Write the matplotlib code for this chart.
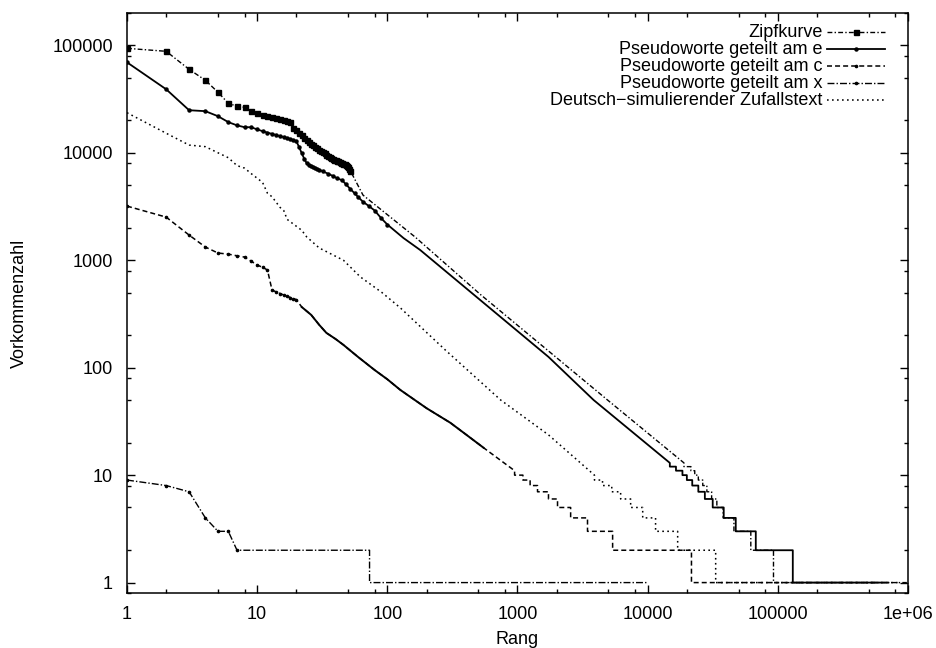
"""Rank/frequency plot (log-log) of Zipf curve vs. pseudo-word splits."""

import matplotlib

matplotlib.use("Agg")
import matplotlib.pyplot as plt
from matplotlib.lines import Line2D
from matplotlib.ticker import FixedLocator, FixedFormatter, LogLocator, NullFormatter

plt.rcParams["font.family"] = ["Liberation Sans", "DejaVu Sans"]
plt.rcParams["lines.scale_dashes"] = False

# --- data: head of each curve as (rank, count) points, tail as count levels
#     and the last rank at which each level still holds ---
zipf_rank = list(range(1, 53)) + [65, 164, 519, 4920, 19000]
zipf_count = [93800, 88000, 59800, 47300, 36600, 28900, 27100, 26500, 24400,
              23300, 22500, 22000, 21500, 21000, 20600, 20200, 19800, 19300,
              17000, 16200, 15400, 14600, 13800, 13200, 12700, 12200, 11800,
              11400, 11000, 10700, 10400, 10100, 9850, 9600, 9350, 9150, 8950,
              8800, 8650, 8500, 8400, 8300, 8200, 8100, 8000, 7900, 7800, 7700,
              7600, 7400, 7100, 6800,
              4040, 1640, 480, 50, 13]
zipf_levels = [12, 11, 10, 9, 8, 7, 6, 5, 4, 3, 2, 1]
zipf_level_end = [21500, 23000, 24500, 26500, 28500, 31000, 34000, 38000,
                  46000, 62000, 92600, 980000]

e_rank = list(range(1, 31)) + [32, 35, 38, 41, 45, 48, 52, 56, 60, 65, 72, 80,
                               90, 100, 133, 179, 1730, 3845, 14800]
e_count = [69500, 39000, 24900, 24400, 21900, 19300, 18000, 17300, 17300,
           16500, 15900, 15400, 15000, 14600, 14300, 14000, 13700, 13400, 13100,
           12800, 11300, 9900, 8800, 8000, 7700, 7500, 7350, 7200, 7050, 6950,
           6700, 6400, 6100, 5800, 5550, 5100, 4600, 4200, 3850, 3500, 3200,
           2900, 2450, 2150, 1610, 1244, 126, 50, 13]
e_levels = [12, 11, 10, 9, 8, 7, 6, 5, 4, 3, 2, 1]
e_level_end = [16500, 18500, 20000, 22000, 24500, 27500, 31600, 38400, 47500,
               67700, 130300, 700000]

c_rank = list(range(1, 21)) + [22, 26, 30, 34, 40, 46, 60, 80, 100, 126, 200,
                               305, 400, 548, 950]
c_count = [3190, 2520, 1715, 1327, 1167, 1140, 1100, 1070, 980, 902, 860, 811,
           529, 507, 490, 475, 462, 450, 440, 430, 367, 310, 250, 211, 185, 163,
           125, 95, 78, 62, 42, 30.7, 24, 18, 11]
c_levels = [10, 9, 8, 7, 6, 5, 4, 3, 2, 1]
c_level_end = [1100, 1250, 1425, 1730, 2030, 2560, 3450, 5380, 21700, 600000]

x_rank = [1, 2, 3, 4, 5, 6, 7]
x_count = [9, 8, 7, 4, 3, 3, 2]
x_levels = [2, 1]
x_level_end = [73, 10000]

sim_rank = [1, 2, 3, 4, 5, 6, 7, 8, 9, 10, 11, 12, 13, 15, 16, 17, 22, 24, 30,
            46, 62, 91, 126, 279, 743, 1730, 3900]
sim_count = [23600, 15200, 11800, 11400, 10000, 9000, 7600, 7200, 6400, 5800,
             5300, 4200, 3900, 3100, 2900, 2400, 1900, 1650, 1300, 1000, 700,
             500, 360, 146, 50, 23.7, 10]
sim_levels = [9, 8, 7, 6, 5, 4, 3, 2, 1]
sim_level_end = [4500, 5300, 6200, 7400, 9160, 11500, 17000, 33300, 850000]

labels = [
    "Zipfkurve",
    "Pseudoworte geteilt am e",
    "Pseudoworte geteilt am c",
    "Pseudoworte geteilt am x",
    "Deutsch\u2212simulierender Zufallstext",
]
x_ticks = [1, 10, 100, 1000, 10000, 100000, 1000000]
x_tick_labels = ["1", "10", "100", "1000", "10000", "100000", "1e+06"]
y_ticks = [1, 10, 100, 1000, 10000, 100000]
y_tick_labels = ["1", "10", "100", "1000", "10000", "100000"]


def staircase(head_rank, head_count, levels, level_end):
    """Append the integer-count steps of the tail to the head points."""
    ranks, counts = list(head_rank), list(head_count)
    for level, end in zip(levels, level_end):
        ranks += [ranks[-1], end]
        counts += [level, level]
    return ranks, counts


def points_upto(ranks, limit):
    """Indices of the points that get a marker (low ranks only)."""
    return [i for i, r in enumerate(ranks) if r <= limit]


zipf = staircase(zipf_rank, zipf_count, zipf_levels, zipf_level_end)
e_curve = staircase(e_rank, e_count, e_levels, e_level_end)
c_curve = staircase(c_rank, c_count, c_levels, c_level_end)
x_curve = staircase(x_rank, x_count, x_levels, x_level_end)
sim = staircase(sim_rank, sim_count, sim_levels, sim_level_end)

series = [
    (zipf, dict(lw=1.0, dashes=[3.5, 1.6, 1.0, 1.6], marker="s", ms=3.6),
     points_upto(zipf_rank, 52)),
    (e_curve, dict(lw=1.3, ls="-", marker="o", ms=2.2), points_upto(e_rank, 100)),
    (c_curve, dict(lw=1.1, dashes=[3.6, 2.2], marker="o", ms=1.6),
     points_upto(c_rank, 20)),
    (x_curve, dict(lw=1.0, dashes=[5.0, 1.5, 1.0, 1.5], marker="o", ms=1.6),
     points_upto(x_rank, 7)),
    (sim, dict(lw=1.1, dashes=[1.2, 2.4]), None),
]

fig = plt.figure(figsize=(9.37, 6.48), dpi=100)
ax = fig.add_axes([127 / 937, 1 - 593 / 648, 781 / 937, 580 / 648])

for (ranks, counts), style, marked in series:
    if marked is None:
        ax.plot(ranks, counts, color="black", **style)
    else:
        ax.plot(ranks, counts, color="black", markevery=marked, **style)

# the c-split points sit so close together in the middle that they merge
c_mid = [i for i, r in enumerate(c_rank) if 22 <= r <= 548]
ax.plot([c_rank[i] for i in c_mid], [c_count[i] for i in c_mid],
        color="black", lw=1.4)

ax.set_xscale("log")
ax.set_yscale("log")
ax.set_xlim(1, 1e6)
ax.set_ylim(0.8, 200000)

ax.xaxis.set_major_locator(FixedLocator(x_ticks))
ax.xaxis.set_major_formatter(FixedFormatter(x_tick_labels))
ax.yaxis.set_major_locator(FixedLocator(y_ticks))
ax.yaxis.set_major_formatter(FixedFormatter(y_tick_labels))
for axis in (ax.xaxis, ax.yaxis):
    axis.set_minor_locator(LogLocator(base=10, subs=[2, 5, 8], numticks=20))
    axis.set_minor_formatter(NullFormatter())

ax.tick_params(which="both", direction="in", top=True, right=True,
               width=1.0, labelsize=13)
ax.tick_params(which="major", length=6)
ax.tick_params(which="minor", length=3)
ax.tick_params(axis="x", pad=9.5)
ax.tick_params(axis="y", pad=10)
for spine in ax.spines.values():
    spine.set_linewidth(1.1)

ax.set_xlabel("Rang", fontsize=13)
ax.set_ylabel("Vorkommenzahl", fontsize=13)
ax.xaxis.set_label_coords(0.5, -0.065)
ax.yaxis.set_label_coords(-0.127, 0.5)

# key in the top right corner: label right-aligned, sample line after it
x_text, x0, x1 = 0.891, 0.896, 0.9706
for i, ((_, _), style, _) in enumerate(series):
    y = 0.967 - i * 0.0293
    ax.text(x_text, y, labels[i], transform=ax.transAxes, ha="right",
            va="center", fontsize=13)
    ax.add_line(Line2D([x0, (x0 + x1) / 2, x1], [y, y, y],
                       transform=ax.transAxes, color="black",
                       markevery=[1], **style))

fig.savefig("out.png", dpi=100)
